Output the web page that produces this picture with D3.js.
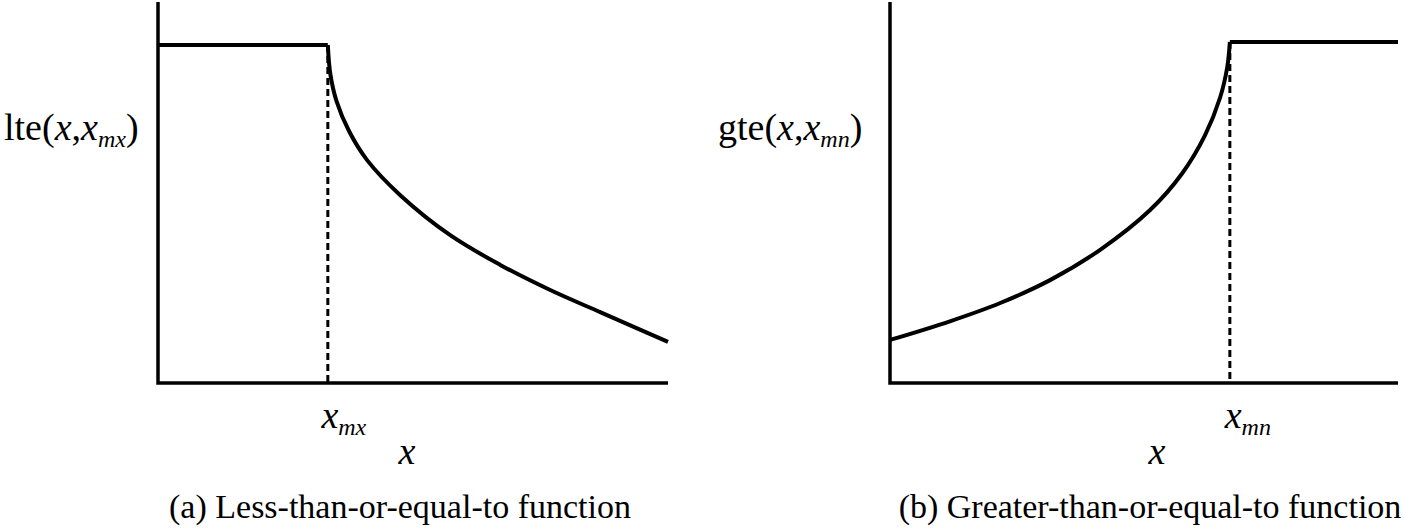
<!DOCTYPE html>
<html><head><meta charset="utf-8">
<script src="https://cdn.jsdelivr.net/npm/d3@7"></script>
<style>body{margin:0;background:#fff}</style>
</head><body><svg id="c" width="1404" height="528" font-family="'Liberation Serif','Times New Roman',Times,serif"></svg>
<script>
// left panel: lte
const lteFlat = [[0, 8.87], [3.33, 8.87]];
const lteCurve = [[3.33, 8.87], [3.38, 8.1], [3.5, 7.4], [3.75, 6.6], [4.1, 5.85], [4.75, 4.93], [5.73, 3.88], [6.71, 3.10], [7.69, 2.44], [8.67, 1.86], [10, 1.08]];
const xMx = 3.33;
// right panel: gte
const gteCurve = [[0, 1.13], [1.18, 1.62], [2.17, 2.10], [3.15, 2.70], [4.13, 3.49], [5.12, 4.54], [5.75, 5.5], [6.2, 6.5], [6.5, 7.5], [6.64, 8.3], [6.69, 8.95]];
const gteFlat = [[6.69, 8.95], [10, 8.95]];
const xMn = 6.69;

const svg = d3.select("#c");

function panel(x0, x1, lines, xt, yTop, yLabel, sub, tickDx, xLabelX, caption, capX) {
  const x = d3.scaleLinear().domain([0, 10]).range([x0, x1]);
  const y = d3.scaleLinear().domain([0, 10]).range([383, 2]);
  const g = svg.append("g");
  g.append("path").attr("d", `M${x(0)},${y(10)}V${y(0)}H${x(10)}`)
    .attr("fill", "none").attr("stroke", "#000").attr("stroke-width", 3.5);
  const line = d3.line().x(d => x(d[0])).y(d => y(d[1])).curve(d3.curveCatmullRom.alpha(0.5));
  lines.forEach(l => g.append("path").attr("d", line(l)).attr("fill", "none")
    .attr("stroke", "#000").attr("stroke-width", 4));
  g.append("line").attr("x1", x(xt)).attr("x2", x(xt)).attr("y1", y(yTop)).attr("y2", y(0))
    .attr("stroke", "#000").attr("stroke-width", 3).attr("stroke-dasharray", "7,4");
  const yl = g.append("text").attr("x", yLabel.x).attr("y", 140).attr("font-size", 38);
  yl.append("tspan").text(yLabel.fn + "(");
  yl.append("tspan").attr("font-style", "italic").text("x");
  yl.append("tspan").text(",");
  yl.append("tspan").attr("font-style", "italic").text("x");
  yl.append("tspan").attr("font-style", "italic").attr("font-size", 24).attr("dy", 7).text(sub);
  yl.append("tspan").attr("dy", -7).text(")");
  const tl = g.append("text").attr("x", x(xt) + tickDx).attr("y", 428).attr("font-size", 38)
    .attr("text-anchor", "middle").attr("font-style", "italic");
  tl.append("tspan").text("x");
  tl.append("tspan").attr("font-size", 24).attr("dy", 7).text(sub);
  g.append("text").attr("x", xLabelX).attr("y", 464).attr("font-size", 38)
    .attr("font-style", "italic").attr("text-anchor", "middle").text("x");
  g.append("text").attr("x", capX).attr("y", 518).attr("font-size", 34)
    .attr("text-anchor", "middle").text(caption);
}

panel(158, 668, [lteFlat, lteCurve], xMx, 8.87, { fn: "lte", x: 4 }, "mx", 16, 407,
  "(a) Less-than-or-equal-to function", 400);
panel(890, 1398, [gteCurve, gteFlat], xMn, 8.95, { fn: "gte", x: 718 }, "mn", 18, 1157,
  "(b) Greater-than-or-equal-to function", 1150);
</script></body></html>
